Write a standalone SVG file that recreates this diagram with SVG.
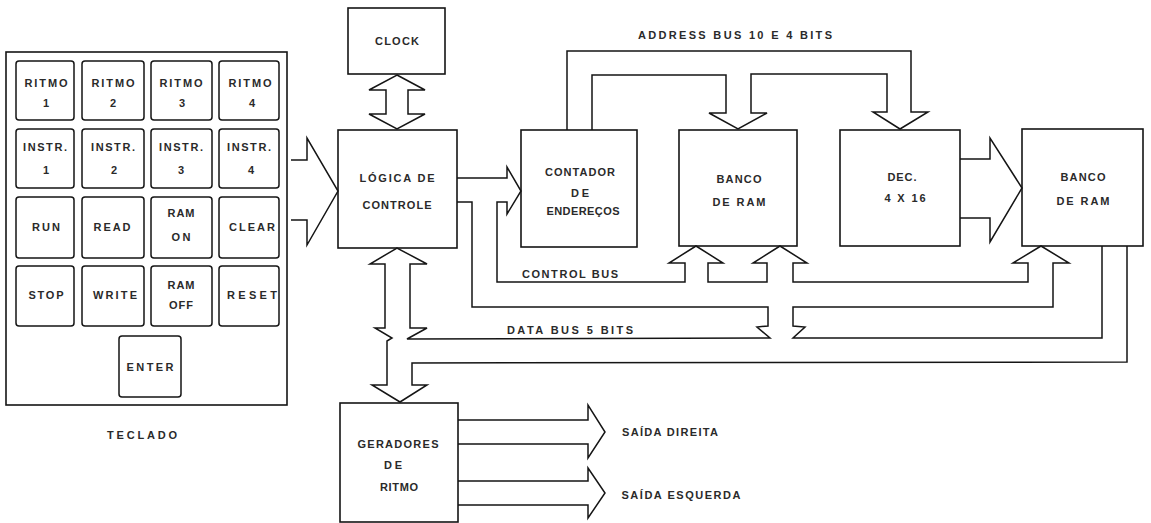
<svg xmlns="http://www.w3.org/2000/svg" width="1151" height="523" viewBox="0 0 1151 523">
<style>
.bg{fill:#ffffff}
.box{fill:none;stroke:#151515;stroke-width:1.6}
.key{fill:none;stroke:#151515;stroke-width:1.5}
.ln{fill:none;stroke:#151515;stroke-width:1.5;stroke-linejoin:miter}
text{font-family:"Liberation Sans",Arial,sans-serif;font-weight:bold;font-size:11px;fill:#2a2a2a;text-anchor:middle}
</style>
<rect class="bg" x="0" y="0" width="1151" height="523"/>

<g id="teclado">
<rect class="box" x="6" y="52" width="281" height="353"/>
<rect class="key" x="16" y="61" width="58" height="59" rx="3"/>
<rect class="key" x="82" y="61" width="62" height="59" rx="3"/>
<rect class="key" x="151" y="61" width="61" height="59" rx="3"/>
<rect class="key" x="219" y="61" width="60" height="59" rx="3"/>
<rect class="key" x="16" y="129" width="58" height="59" rx="3"/>
<rect class="key" x="82" y="129" width="62" height="59" rx="3"/>
<rect class="key" x="151" y="129" width="61" height="59" rx="3"/>
<rect class="key" x="219" y="129" width="60" height="59" rx="3"/>
<rect class="key" x="16" y="197" width="58" height="61" rx="3"/>
<rect class="key" x="82" y="197" width="62" height="61" rx="3"/>
<rect class="key" x="151" y="197" width="61" height="61" rx="3"/>
<rect class="key" x="219" y="197" width="60" height="61" rx="3"/>
<rect class="key" x="16" y="266" width="58" height="60" rx="3"/>
<rect class="key" x="82" y="266" width="62" height="60" rx="3"/>
<rect class="key" x="151" y="266" width="61" height="60" rx="3"/>
<rect class="key" x="219" y="266" width="60" height="60" rx="3"/>
<rect class="key" x="119" y="336" width="62" height="61" rx="3"/>
<text x="46" y="87" textLength="43" lengthAdjust="spacing">RITMO</text>
<text x="46" y="107">1</text>
<text x="113" y="87" textLength="43" lengthAdjust="spacing">RITMO</text>
<text x="113" y="107">2</text>
<text x="181" y="87" textLength="43" lengthAdjust="spacing">RITMO</text>
<text x="182" y="107">3</text>
<text x="250" y="87" textLength="43" lengthAdjust="spacing">RITMO</text>
<text x="252" y="107">4</text>
<text x="45" y="151" textLength="44" lengthAdjust="spacing">INSTR.</text>
<text x="46" y="174">1</text>
<text x="113" y="151" textLength="44" lengthAdjust="spacing">INSTR.</text>
<text x="114" y="174">2</text>
<text x="181" y="151" textLength="44" lengthAdjust="spacing">INSTR.</text>
<text x="181" y="174">3</text>
<text x="249" y="151" textLength="44" lengthAdjust="spacing">INSTR.</text>
<text x="251" y="174">4</text>
<text x="46" y="231" textLength="28" lengthAdjust="spacing">RUN</text>
<text x="112" y="231" textLength="37" lengthAdjust="spacing">READ</text>
<text x="181" y="217" textLength="27" lengthAdjust="spacing">RAM</text>
<text x="181" y="241" textLength="19" lengthAdjust="spacing">ON</text>
<text x="252" y="231" textLength="46" lengthAdjust="spacing">CLEAR</text>
<text x="46" y="299" textLength="35" lengthAdjust="spacing">STOP</text>
<text x="115" y="299" textLength="44" lengthAdjust="spacing">WRITE</text>
<text x="181" y="289" textLength="27" lengthAdjust="spacing">RAM</text>
<text x="181" y="309" textLength="24" lengthAdjust="spacing">OFF</text>
<text x="252" y="299" textLength="50" lengthAdjust="spacing">RESET</text>
<text x="150" y="371" textLength="47" lengthAdjust="spacing">ENTER</text>
</g>
<text x="142" y="439" textLength="70" lengthAdjust="spacing">TECLADO</text>

<g id="clock">
<rect class="box" x="348" y="8" width="97" height="66"/>
<text x="397" y="45" textLength="44" lengthAdjust="spacing">CLOCK</text>
</g>

<g id="logica">
<rect class="box" x="338" y="130" width="119" height="118"/>
<text x="397" y="182" textLength="75" lengthAdjust="spacing">LÓGICA DE</text>
<text x="397" y="209" textLength="69" lengthAdjust="spacing">CONTROLE</text>
</g>

<g id="contador">
<rect class="box" x="521" y="130" width="116" height="117"/>
<text x="580" y="176" textLength="70" lengthAdjust="spacing">CONTADOR</text>
<text x="580" y="197" textLength="18" lengthAdjust="spacing">DE</text>
<text x="583" y="215" textLength="73" lengthAdjust="spacing">ENDEREÇOS</text>
</g>

<g id="banco1">
<rect class="box" x="679" y="130" width="118" height="116"/>
<text x="739" y="183" textLength="45" lengthAdjust="spacing">BANCO</text>
<text x="739" y="206" textLength="53" lengthAdjust="spacing">DE RAM</text>
</g>

<g id="dec">
<rect class="box" x="840" y="130" width="120" height="116"/>
<text x="902" y="181" textLength="29" lengthAdjust="spacing">DEC.</text>
<text x="905" y="202" textLength="41" lengthAdjust="spacing">4 X 16</text>
</g>

<g id="banco2">
<rect class="box" x="1022" y="129" width="121" height="117"/>
<text x="1083" y="181" textLength="45" lengthAdjust="spacing">BANCO</text>
<text x="1083" y="205" textLength="53" lengthAdjust="spacing">DE RAM</text>
</g>

<g id="geradores">
<rect class="box" x="340" y="403" width="118" height="119"/>
<text x="398" y="448" textLength="81" lengthAdjust="spacing">GERADORES</text>
<text x="393" y="469" textLength="18" lengthAdjust="spacing">DE</text>
<text x="399" y="491" textLength="38" lengthAdjust="spacing">RITMO</text>
</g>

<g id="connectors">
<polygon class="ln" points="397,75 425,90 408,90 408,114 425,114 397,129 369,114 386,114 386,90 369,90"/>
<polyline class="ln" points="291,160 307,160 307,138 338,191 307,245 307,220 291,220"/>
<polyline class="ln" points="457,178 507,178 507,167 521,191 507,214 507,202 497,202 497,282 685,282 685,263 669,263 696,246 723,263 708,263 708,282 767,282 767,263 753,263 780,246 807,263 793,263 793,282 1028,282 1028,263 1013,263 1041,246 1069,263 1053,263 1053,307 793,307 793,326 805,327 793,338 1102,338 1102,246"/>
<polyline class="ln" points="457,202 472,202 472,307 768,307 768,326 757,327 770,338 407,339 427,328 410,328 410,264 427,264 397,248 370,264 385,264 385,328 375,328 392,338 387,341 387,385 372,385 400,402 427,385 412,385 412,363 1127,362 1127,246"/>
<polyline class="ln" points="567,130 567,51 911,51 911,112 928,112 900,129 873,112 887,112 887,74 751,74 751,113 767,113 738,129 709,113 726,113 726,75 592,75 592,130"/>
<polyline class="ln" points="960,159 990,159 990,138 1022,188 990,242 990,218 960,218"/>
<polyline class="ln" points="458,420 588,420 588,405 605,432 588,458 588,444 458,444"/>
<polyline class="ln" points="458,481 588,481 588,468 605,493 588,518 588,505 458,505"/>
<text x="735" y="39" textLength="194" lengthAdjust="spacing">ADDRESS BUS 10 E 4 BITS</text>
<text x="570" y="278" textLength="96" lengthAdjust="spacing">CONTROL BUS</text>
<text x="570" y="334" textLength="126" lengthAdjust="spacing">DATA BUS 5 BITS</text>
<text x="670" y="436" textLength="96" lengthAdjust="spacing">SAÍDA DIREITA</text>
<text x="681" y="499" textLength="119" lengthAdjust="spacing">SAÍDA ESQUERDA</text>
</g>
</svg>
